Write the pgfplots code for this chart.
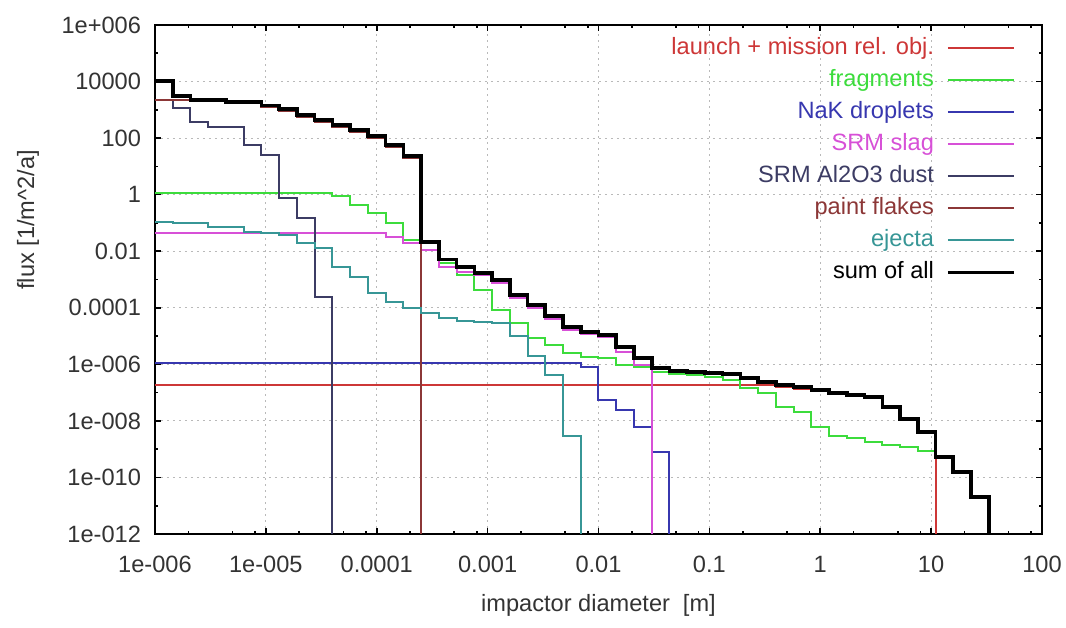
\documentclass[border=0pt]{standalone}
\usepackage{pgfplots}
\pgfplotsset{compat=1.18}
\usepackage{fontspec}
\setmainfont{Liberation Sans}

\definecolor{cred}{RGB}{205,55,55}
\definecolor{cgreen}{RGB}{60,220,60}
\definecolor{cblue}{RGB}{55,55,175}
\definecolor{cmag}{RGB}{215,80,215}
\definecolor{cnavy}{RGB}{60,60,100}
\definecolor{cbrown}{RGB}{140,55,55}
\definecolor{cteal}{RGB}{55,150,150}

\begin{document}
\begin{tikzpicture}
\begin{axis}[
  scale only axis,
  width=443.5pt, height=254.5pt,
  xmode=log, ymode=log,
  xmin=1e-6, xmax=100, ymin=1e-12, ymax=1e6,
  xtick={1e-6,1e-5,1e-4,1e-3,1e-2,1e-1,1,10,100},
  xticklabels={1e-006,1e-005,0.0001,0.001,0.01,0.1,1,10,100},
  ytick={1e6,1e4,1e2,1,1e-2,1e-4,1e-6,1e-8,1e-10,1e-12},
  yticklabels={1e+006,10000,100,1,0.01,0.0001,1e-006,1e-008,1e-010,1e-012},
  minor xtick={2e-6,5e-6,8e-6,2e-5,5e-5,8e-5,2e-4,5e-4,8e-4,2e-3,5e-3,8e-3,
               0.02,0.05,0.08,0.2,0.5,0.8,2,5,8,20,50,80},
  minor ytick={1e5,1e3,10,0.1,1e-3,1e-5,1e-7,1e-9,1e-11},
  major tick length=3pt, minor tick length=1.6pt,
  tick style={black, line width=0.8pt},
  axis line style={line width=1pt},
  grid=major,
  major grid style={gray!55, line width=0.6pt, dash pattern=on 1pt off 2pt},
  tick label style={font=\fontsize{11.8}{13}\selectfont, text=black!80},
  xticklabel style={yshift=-7.5pt},
  yticklabel style={xshift=-3.5pt},
  label style={font=\fontsize{11.8}{13}\selectfont, text=black!80},
  xlabel={impactor diameter\hspace{0.55em}[m]},
  xlabel style={at={(axis description cs:0.5,-0.1513)}, anchor=base},
  ylabel={flux [1/m\textasciicircum 2/a]},
  ylabel style={at={(axis description cs:-0.1364,0.617)}, anchor=base},
  legend plot pos=right,
  legend cell align=right,
  legend image code/.code={\draw[#1] (0pt,0pt) -- (33pt,0pt);},
  legend style={draw=none, fill=none, inner sep=0pt,
    at={(axis description cs:1,1)}, anchor=north east,
    xshift=-13pt, yshift=-3.5pt, column sep=4pt,
    font=\fontsize{11.8}{13}\selectfont, row sep=0pt,
    nodes={inner sep=2pt, text height=9pt, text depth=3pt}},
  every axis plot/.append style={const plot, no marks, line width=1pt},
]
\addplot[cred] coordinates {
  (1e-6,1.9e-7) (0.3981,1.55e-7) (0.5754,1.37e-7) (0.8318,1.17e-7)
  (1.202,9.4e-8) (1.738,8.0e-8) (2.512,6.8e-8) (3.631,3.0e-8)
  (5.248,1.1e-8) (7.586,3.7e-9) (10.96,1e-12)
};
\addlegendentry{\color{cred}launch + mission rel. obj.}
\addplot[cgreen] coordinates {
  (1e-6,1.1) (3.981e-5,0.9) (5.754e-5,0.43) (8.318e-5,0.22) (1.202e-4,0.1)
  (1.738e-4,0.025) (2.512e-4,0.0195) (3.631e-4,3.8e-3) (5.248e-4,1.45e-3)
  (7.586e-4,4.3e-4) (1.096e-3,8.3e-5) (1.585e-3,2.9e-5) (2.291e-3,8.5e-6)
  (3.311e-3,4.9e-6) (4.786e-3,2.5e-6) (6.918e-3,1.8e-6) (1e-2,1.66e-6)
  (1.445e-2,9.5e-7) (2.089e-2,8.1e-7) (3.020e-2,5.4e-7) (4.365e-2,4.4e-7)
  (6.310e-2,4.2e-7) (9.120e-2,3.6e-7) (0.1318,2.8e-7) (0.1905,1.45e-7)
  (0.2754,9.7e-8) (0.3981,3.1e-8) (0.5754,2.05e-8) (0.8318,6.1e-9)
  (1.202,2.9e-9) (1.738,2.5e-9) (2.512,1.8e-9) (3.631,1.4e-9)
  (5.248,1.2e-9) (7.586,8.7e-10) (10.96,8.7e-10)
};
\addlegendentry{\color{cgreen}fragments}
\addplot[cblue] coordinates {
  (1e-6,1.12e-6) (6.918e-3,8.1e-7) (1e-2,5.5e-8) (1.445e-2,2.4e-8)
  (2.089e-2,6.1e-9) (3.020e-2,7.9e-10) (4.365e-2,1e-12)
};
\addlegendentry{\color{cblue}NaK droplets}
\addplot[cmag] coordinates {
  (1e-6,0.043) (1.202e-4,0.032) (1.738e-4,0.0195) (2.512e-4,0.011)
  (3.631e-4,2.8e-3) (5.248e-4,1.9e-3) (7.586e-4,1.45e-3) (1.096e-3,7.6e-4)
  (1.585e-3,2.2e-4) (2.291e-3,1.0e-4) (3.311e-3,4.0e-5) (4.786e-3,1.64e-5)
  (6.918e-3,1.2e-5) (1e-2,9.5e-6) (1.445e-2,2.75e-6) (2.089e-2,9.5e-7)
  (3.020e-2,1e-12)
};
\addlegendentry{\color{cmag}SRM slag}
\addplot[cnavy] coordinates {
  (1e-6,2.2e3) (1.445e-6,1.16e3) (2.089e-6,3.8e2) (3.020e-6,2.5e2)
  (6.310e-6,57) (9.120e-6,25) (1.318e-5,0.74) (1.905e-5,0.145)
  (2.754e-5,2.5e-4) (3.981e-5,1e-12)
};
\addlegendentry{\color{cnavy}SRM Al2O3 dust\ }
\addplot[cbrown] coordinates {
  (1e-6,2.2e3) (4.365e-6,1.75e3) (9.120e-6,1.26e3) (1.318e-5,9.1e2)
  (1.905e-5,5.6e2) (2.754e-5,3.7e2) (3.981e-5,2.5e2) (5.754e-5,1.65e2)
  (8.318e-5,1.0e2) (1.202e-4,49) (1.738e-4,20) (2.512e-4,1e-12)
};
\addlegendentry{\color{cbrown}paint flakes}
\addplot[cteal] coordinates {
  (1e-6,0.11) (1.445e-6,0.1) (3.020e-6,0.072) (6.310e-6,0.048)
  (9.120e-6,0.045) (1.318e-5,0.037) (1.905e-5,0.0195) (2.754e-5,0.013)
  (3.981e-5,2.8e-3) (5.754e-5,1.23e-3) (8.318e-5,3.3e-4) (1.202e-4,1.6e-4)
  (1.738e-4,1.0e-4) (2.512e-4,6.6e-5) (3.631e-4,4.4e-5) (5.248e-4,3.4e-5)
  (7.586e-4,3.2e-5) (1.096e-3,2.9e-5) (1.585e-3,1.0e-5) (2.291e-3,2.0e-6)
  (3.311e-3,4.2e-7) (4.786e-3,2.9e-9) (6.918e-3,1e-12)
};
\addlegendentry{\color{cteal}ejecta}
\addplot[black, line width=1.8pt] coordinates {
  (1e-6,1.05e4) (1.445e-6,3.1e3) (2.089e-6,2.2e3) (4.365e-6,1.85e3)
  (9.120e-6,1.4e3) (1.318e-5,1.05e3) (1.905e-5,6.6e2) (2.754e-5,4.4e2)
  (3.981e-5,2.9e2) (5.754e-5,1.95e2) (8.318e-5,1.2e2) (1.202e-4,57)
  (1.738e-4,23) (2.512e-4,2.1e-2) (3.631e-4,5.1e-3) (5.248e-4,2.8e-3)
  (7.586e-4,1.7e-3) (1.096e-3,9.6e-4) (1.585e-3,2.8e-4) (2.291e-3,1.26e-4)
  (3.311e-3,5.1e-5) (4.786e-3,2.1e-5) (6.918e-3,1.38e-5) (1e-2,1.1e-5)
  (1.445e-2,4.1e-6) (2.089e-2,1.68e-6) (3.020e-2,7.4e-7) (4.365e-2,5.9e-7)
  (6.310e-2,5.4e-7) (9.120e-2,5.0e-7) (0.1318,4.6e-7) (0.1905,3.3e-7)
  (0.2754,2.4e-7) (0.3981,1.86e-7) (0.5754,1.58e-7) (0.8318,1.23e-7)
  (1.202,9.7e-8) (1.738,8.3e-8) (2.512,7.0e-8) (3.631,3.1e-8)
  (5.248,1.17e-8) (7.586,4.1e-9) (10.96,5.3e-10) (15.85,1.55e-10)
  (22.91,2.0e-11) (33.11,1e-12)
};
\addlegendentry{\color{black}sum of all}
\end{axis}
\pgfresetboundingbox
\path[use as bounding box] ([xshift=-77.5pt,yshift=-47pt]current axis.south west)
  rectangle ([xshift=12pt,yshift=12.5pt]current axis.north east);
\end{tikzpicture}
\end{document}
